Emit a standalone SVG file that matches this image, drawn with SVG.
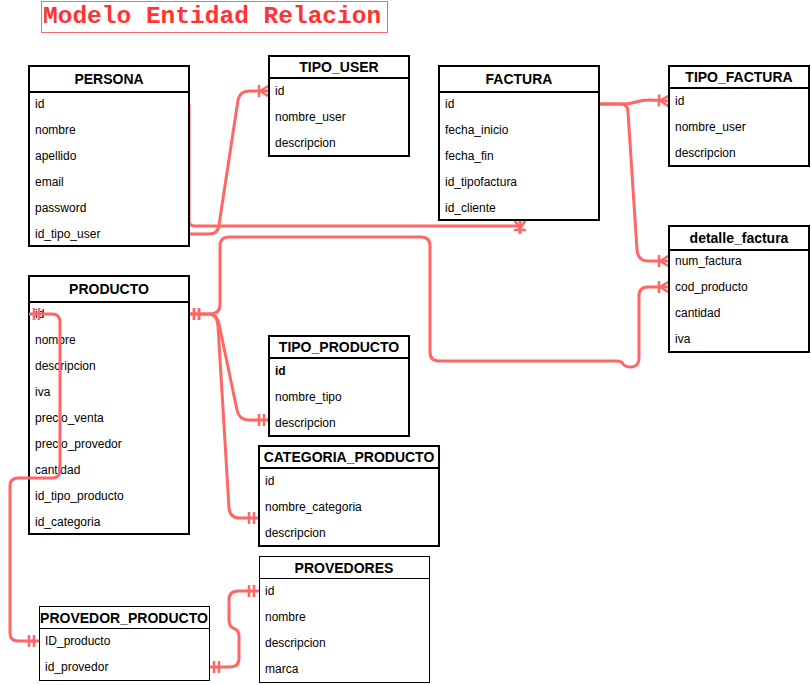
<svg xmlns="http://www.w3.org/2000/svg" width="811" height="685" viewBox="0 0 811 685">
<style>
.box{fill:#fff;stroke:#000;stroke-width:2}
.thin{fill:#fff;stroke:#000;stroke-width:1}
.hd{font-family:"Liberation Sans",Arial,sans-serif;font-size:14px;font-weight:bold;fill:#000;text-anchor:middle}
.f{font-family:"Liberation Sans",Arial,sans-serif;font-size:12px;fill:#000}
.b{font-weight:bold}
.c{fill:none;stroke:#FF6666;stroke-width:3;stroke-linejoin:round}
.m{fill:none;stroke:#FF6666;stroke-width:2.5}
.title{font-family:"Liberation Mono","Courier New",monospace;font-size:24.5px;font-weight:bold;fill:#FF3333}
</style>
<defs>
<marker id="many" viewBox="-14 -8 16 16" refX="0" refY="0" markerWidth="16" markerHeight="16" markerUnits="userSpaceOnUse" orient="auto">
<path class="m" d="M-9,0 L0,-5.5 M-9,0 L0,5.5 M-10,-6 L-10,6"/>
</marker>
<marker id="one" viewBox="-14 -8 16 16" refX="0" refY="0" markerWidth="16" markerHeight="16" markerUnits="userSpaceOnUse" orient="auto-start-reverse">
<path class="m" d="M-5,-6 L-5,6 M-10,-6 L-10,6"/>
</marker>
</defs>
<rect width="811" height="685" fill="#fff"/>
<g id="title">
<rect x="41.5" y="1.5" width="346" height="31" fill="none" stroke="#FF6666" stroke-width="1"/>
<text class="title" x="43" y="23">Modelo Entidad Relacion</text>
</g>
<g id="connectors">
<path class="c" d="M189,104 L189,221 Q189,226 195,226 L520,226"/>
<path class="c" d="M520,234 L520,220" marker-end="url(#many)"/>
<path class="c" d="M189,234 L209,234 Q218,234 219,225 L238,100 Q240,91 249,91 L269,91" marker-end="url(#many)"/>
<path class="c" d="M599,104 L622,104 Q630,104 636,102 Q642,100 650,100 L669,101" marker-end="url(#many)"/>
<path class="c" d="M599,104 L621,104 Q628,104 628,112 L637,250 Q638,261 648,261 L669,261" marker-end="url(#many)"/>
<path class="c" d="M189,314 L210,314 Q220,314 220,304 L220,246 Q220,237 229,237 L421,237 Q430,237 430,246 L430,352 Q430,361 439,361 L616,361 Q622,361 623,364 Q625,367 632,367 Q639,366 639,358 L639,296 Q639,287 648,287 L669,287" marker-start="url(#one)" marker-end="url(#many)"/>
<path class="c" d="M189,314 L210,314 Q217,315 219,324 L237,410 Q239,420 249,420 L269,420" marker-start="url(#one)" marker-end="url(#one)"/>
<path class="c" d="M210,314 Q217,315 218,326 L229,508 Q230,518 240,518 L259,518" marker-end="url(#one)"/>
<path class="c" d="M209,667 L230,667 Q239,667 239,658 L239,636 Q239,630 233,628 Q229,626 229,620 L229,600 Q229,591 238,591 L259,591" marker-start="url(#one)" marker-end="url(#one)"/>
</g>
<g id="persona">
<rect class="box" x="29" y="66" width="160" height="180"/>
<line x1="29" y1="92" x2="189" y2="92" stroke="#000" stroke-width="2"/>
<text class="hd" x="109" y="84">PERSONA</text>
<text class="f" x="35" y="108">id</text>
<text class="f" x="35" y="134">nombre</text>
<text class="f" x="35" y="160">apellido</text>
<text class="f" x="35" y="186">email</text>
<text class="f" x="35" y="212">password</text>
<text class="f" x="35" y="238">id_tipo_user</text>
</g>
<g id="tipo_user">
<rect class="box" x="269" y="56" width="140" height="100"/>
<line x1="269" y1="78" x2="409" y2="78" stroke="#000" stroke-width="2"/>
<text class="hd" x="339" y="72">TIPO_USER</text>
<text class="f" x="275" y="95">id</text>
<text class="f" x="275" y="121">nombre_user</text>
<text class="f" x="275" y="147">descripcion</text>
</g>
<g id="factura">
<rect class="box" x="439" y="66" width="160" height="154"/>
<line x1="439" y1="92" x2="599" y2="92" stroke="#000" stroke-width="2"/>
<text class="hd" x="519" y="84">FACTURA</text>
<text class="f" x="445" y="108">id</text>
<text class="f" x="445" y="134">fecha_inicio</text>
<text class="f" x="445" y="160">fecha_fin</text>
<text class="f" x="445" y="186">id_tipofactura</text>
<text class="f" x="445" y="212">id_cliente</text>
</g>
<g id="tipo_factura">
<rect class="box" x="669" y="66" width="140" height="100"/>
<line x1="669" y1="88" x2="809" y2="88" stroke="#000" stroke-width="2"/>
<text class="hd" x="739" y="82">TIPO_FACTURA</text>
<text class="f" x="675" y="105">id</text>
<text class="f" x="675" y="131">nombre_user</text>
<text class="f" x="675" y="157">descripcion</text>
</g>
<g id="detalle_factura">
<rect class="box" x="669" y="226" width="140" height="126"/>
<line x1="669" y1="250" x2="809" y2="250" stroke="#000" stroke-width="2"/>
<text class="hd" x="739" y="243">detalle_factura</text>
<text class="f" x="675" y="265">num_factura</text>
<text class="f" x="675" y="291">cod_producto</text>
<text class="f" x="675" y="317">cantidad</text>
<text class="f" x="675" y="343">iva</text>
</g>
<g id="producto">
<rect class="box" x="29" y="276" width="160" height="258"/>
<line x1="29" y1="302" x2="189" y2="302" stroke="#000" stroke-width="2"/>
<text class="hd" x="109" y="294">PRODUCTO</text>
<text class="f" x="35" y="318">id</text>
<text class="f" x="35" y="344">nombre</text>
<text class="f" x="35" y="370">descripcion</text>
<text class="f" x="35" y="396">iva</text>
<text class="f" x="35" y="422">precio_venta</text>
<text class="f" x="35" y="448">precio_provedor</text>
<text class="f" x="35" y="474">cantidad</text>
<text class="f" x="35" y="500">id_tipo_producto</text>
<text class="f" x="35" y="526">id_categoria</text>
</g>
<g id="tipo_producto">
<rect class="box" x="269" y="336" width="140" height="100"/>
<line x1="269" y1="358" x2="409" y2="358" stroke="#000" stroke-width="2"/>
<text class="hd" x="339" y="352">TIPO_PRODUCTO</text>
<text class="f b" x="275" y="375">id</text>
<text class="f" x="275" y="401">nombre_tipo</text>
<text class="f" x="275" y="427">descripcion</text>
</g>
<g id="categoria_producto">
<rect class="box" x="259" y="446" width="180" height="100"/>
<line x1="259" y1="468" x2="439" y2="468" stroke="#000" stroke-width="2"/>
<text class="hd" x="349" y="462">CATEGORIA_PRODUCTO</text>
<text class="f" x="265" y="485">id</text>
<text class="f" x="265" y="511">nombre_categoria</text>
<text class="f" x="265" y="537">descripcion</text>
</g>
<g id="provedores">
<rect class="thin" x="259.5" y="556.5" width="170" height="126"/>
<line x1="259.5" y1="578.5" x2="429.5" y2="578.5" stroke="#000" stroke-width="1"/>
<text class="hd" x="344" y="573">PROVEDORES</text>
<text class="f" x="265" y="595">id</text>
<text class="f" x="265" y="621">nombre</text>
<text class="f" x="265" y="647">descripcion</text>
<text class="f" x="265" y="673">marca</text>
</g>
<g id="provedor_producto">
<rect class="thin" x="39.5" y="606.5" width="170" height="74"/>
<line x1="39.5" y1="628.5" x2="209.5" y2="628.5" stroke="#000" stroke-width="1"/>
<text class="hd" x="124" y="623">PROVEDOR_PRODUCTO</text>
<text class="f" x="45" y="645">ID_producto</text>
<text class="f" x="45" y="671">id_provedor</text>
</g>
<g id="connectors-over">
<path class="c" d="M29,314 L52,314 Q60,314 60,322 L60,470 Q60,478 52,478 L18,478 Q10,478 10,486 L10,633 Q10,641 18,641 L39,641" marker-start="url(#one)" marker-end="url(#one)"/>
</g>
</svg>
